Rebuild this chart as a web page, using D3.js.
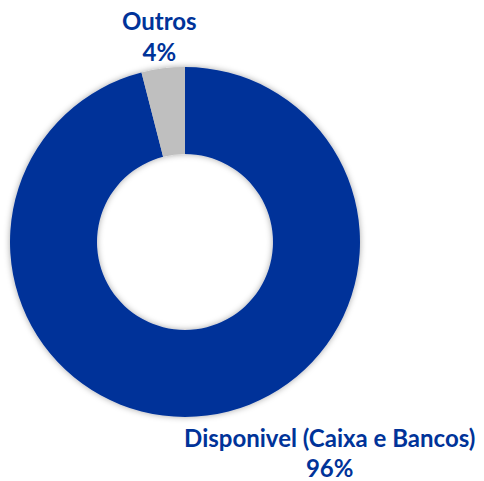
<!DOCTYPE html>
<html><head><meta charset="utf-8">
<script src="https://cdn.jsdelivr.net/npm/d3@7/dist/d3.min.js"></script>
<style>html,body{margin:0;padding:0;background:#fff;}</style>
</head><body>
<svg id="c" width="484" height="481"></svg>
<script>
const categories = ["Disponivel (Caixa e Bancos)", "Outros"];
const values = [96, 4];
const labels = ["96%", "4%"];
const colors = ["#003399", "#BFBFBF"];

const svg = d3.select("#c");
const cx = 185, cy = 242, rOuter = 175, rInner = 88;

const defs = svg.append("defs");
const f = defs.append("filter").attr("id","sh").attr("x","-20%").attr("y","-20%").attr("width","140%").attr("height","140%");
f.append("feDropShadow").attr("dx",0).attr("dy",0).attr("stdDeviation",3).attr("flood-color","#000").attr("flood-opacity",0.35);

const data = categories.map((c,i)=>({cat:c, value:values[i], label:labels[i], color:colors[i]}));
const pie = d3.pie().value(d=>d.value).sort(null);
const arcs = pie(data);
const arc = d3.arc().innerRadius(rInner).outerRadius(rOuter);

const g = svg.append("g").attr("transform",`translate(${cx},${cy})`);
g.append("g").attr("filter","url(#sh)")
  .selectAll("path").data(arcs).join("path")
  .attr("d", arc).attr("fill", d=>d.data.color);

// labels
const labelArc = d3.arc().innerRadius(205).outerRadius(205);
const offsets = [[119, 10], [0, 0]];
const font = "Lato, 'Open Sans', sans-serif";
const lg = g.selectAll("g.lbl").data(arcs).join("g").attr("class","lbl")
  .attr("transform",(d,i)=>{const c = labelArc.centroid(d); return `translate(${c[0]+offsets[i][0]},${c[1]+offsets[i][1]})`;});
lg.append("text").attr("text-anchor","middle").attr("y",-8.5)
  .attr("font-family",font).attr("font-weight","bold").attr("font-size",24)
  .attr("fill","#003399").text(d=>d.data.cat);
lg.append("text").attr("text-anchor","middle").attr("y",22)
  .attr("font-family",font).attr("font-weight","bold").attr("font-size",24)
  .attr("fill","#003399").text(d=>d.data.label);
</script>
</body></html>
